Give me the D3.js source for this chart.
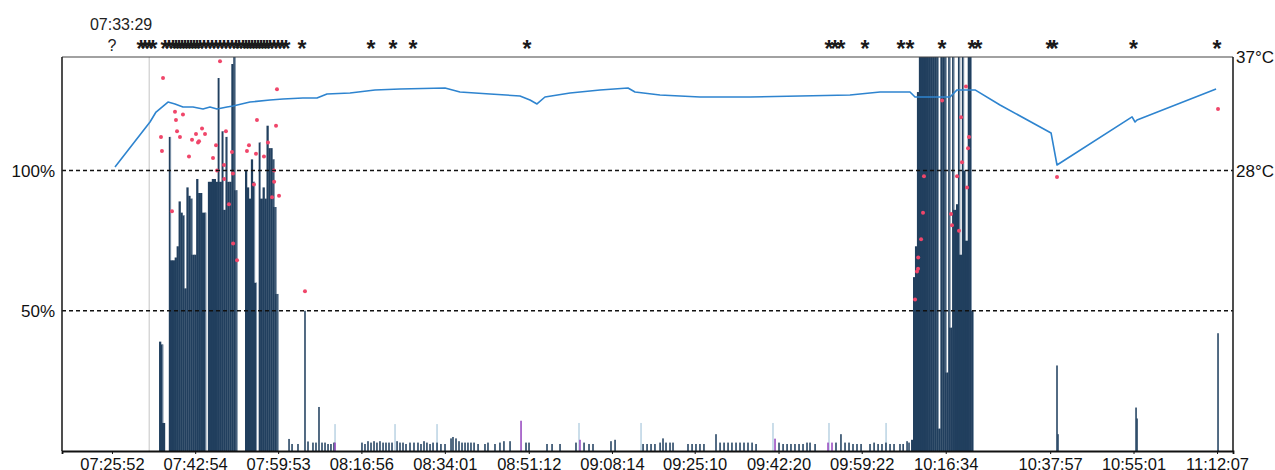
<!DOCTYPE html>
<html>
<head>
<meta charset="utf-8">
<script src="https://cdn.jsdelivr.net/npm/d3@7"></script>
<style>
  body { margin: 0; background: #fff; }
  svg { display: block; font-family: "Liberation Sans", Arial, sans-serif; }
</style>
</head>
<body>
<svg id="chart" width="1275" height="470"></svg>
<script>
// ---- data -------------------------------------------------------------
const timeTicks = ["07:25:52", "07:42:54", "07:59:53", "08:16:56", "08:34:01", "08:51:12",
  "09:08:14", "09:25:10", "09:42:20", "09:59:22", "10:16:34", "10:37:57", "10:55:01", "11:12:07"];
const pctTicks = [50, 100];
const tempTicks = [28, 37];
const firstReading = "07:25:52";
const markTime = "07:33:29";

// activity bursts sampled every 24 s
const sampleStepSec = 24;
const burst1Start = "07:35:42";
const burst1Values = [39, 38, 10, 0, 0, 112, 68, 68, 69, 73, 89, 85, 84, 58, 94, 91, 90, 70, 70, 97,
  92, 92, 85, 85, 0, 96, 96, 97, 97, 96, 133, 96, 114, 86, 112, 96, 96, 138, 145, 93,
  0, 0, 0, 0, 100, 94, 90, 104, 96, 60, 0, 110, 90, 94, 90, 116, 108, 108, 104, 87, 56];
const burst2Start = "10:09:40";
const burst2Values = [4, 62, 73, 128, 145, 145, 145, 145, 145, 145, 145, 145, 145, 145, 8, 145,
  145, 145, 28, 145, 44, 145, 86, 88, 145, 70, 145, 100, 75, 145, 145, 50];

// isolated activity readings (time, %)
const activity = [
  ["08:02:07", 4.3], ["08:02:44", 2.5], ["08:03:57", 2.5], ["08:05:23", 50], ["08:06:00", 3.4],
  ["08:07:01", 3], ["08:07:38", 3], ["08:08:15", 15.7], ["08:08:52", 3], ["08:09:29", 3],
  ["08:10:06", 2.5], ["08:10:42", 2.5], ["08:11:19", 3],
  ["08:17:03", 3], ["08:17:40", 2.5], ["08:18:17", 3.5], ["08:18:54", 3], ["08:19:31", 3.5],
  ["08:20:07", 3], ["08:20:44", 3.5], ["08:21:22", 3], ["08:21:58", 3], ["08:22:35", 3],
  ["08:23:12", 3], ["08:24:14", 3.5], ["08:24:50", 3], ["08:25:27", 3], ["08:26:04", 2.5],
  ["08:26:53", 3], ["08:27:42", 3], ["08:28:31", 3], ["08:29:08", 2.5], ["08:29:45", 3.5],
  ["08:30:21", 3], ["08:30:59", 2.5], ["08:31:36", 3], ["08:32:25", 3], ["08:33:13", 2.5],
  ["08:34:03", 2.5], ["08:35:17", 4.5], ["08:35:41", 5], ["08:36:18", 4.5], ["08:36:55", 3.5],
  ["08:37:32", 3], ["08:38:09", 3], ["08:38:45", 3], ["08:39:22", 3], ["08:40:00", 3],
  ["08:40:49", 2.5], ["08:42:14", 2.5], ["08:42:51", 3], ["08:44:17", 2.5], ["08:45:18", 3],
  ["08:46:07", 3.5], ["08:47:22", 3.5], ["08:50:38", 3], ["08:51:15", 3], ["08:54:56", 2.5],
  ["08:55:58", 2.5], ["08:57:36", 2.5], ["09:00:52", 3], ["09:02:31", 3], ["09:03:32", 2.5],
  ["09:04:21", 2.5], ["09:08:02", 3.5], ["09:08:52", 4], ["09:14:36", 2.5], ["09:15:25", 2.5],
  ["09:16:14", 2.5], ["09:17:02", 2.5], ["09:18:05", 3], ["09:18:41", 4.5], ["09:19:18", 3],
  ["09:20:07", 3], ["09:20:44", 3], ["09:23:48", 2.5], ["09:24:38", 2.5], ["09:25:26", 2.5],
  ["09:26:15", 2.5], ["09:27:04", 2.5], ["09:29:32", 6], ["09:30:22", 3], ["09:31:11", 3],
  ["09:32:00", 3], ["09:32:48", 3], ["09:33:38", 3], ["09:34:27", 3], ["09:35:16", 3],
  ["09:36:05", 3], ["09:36:55", 3], ["09:37:44", 2.5], ["09:42:26", 3], ["09:43:16", 2.5],
  ["09:44:05", 2.5], ["09:44:53", 2.5], ["09:45:42", 2.5], ["09:46:32", 2.5], ["09:47:21", 2.5],
  ["09:48:10", 3], ["09:48:47", 3], ["09:49:49", 2.5], ["09:54:06", 3], ["09:55:07", 6],
  ["09:55:57", 3], ["09:56:46", 3], ["09:57:35", 2.5], ["09:58:24", 2.5], ["09:59:14", 2.5],
  ["10:01:04", 2.5], ["10:01:54", 3], ["10:02:43", 2.5], ["10:03:31", 2.5], ["10:04:20", 3],
  ["10:05:10", 2.5], ["10:05:59", 2.5], ["10:07:12", 2.5], ["10:07:51", 2.5], ["10:08:39", 3.5],
  ["10:09:03", 3],
  ["10:39:21", 30.5], ["10:39:33", 6], ["10:55:32", 15.5], ["10:55:44", 11.6], ["11:12:19", 42]
];

// secondary channels (time, %)
const lightChannel = [
  ["08:11:32", 9.6], ["08:23:49", 9.6], ["08:32:25", 9.6], ["09:01:29", 10],
  ["09:14:11", 10], ["09:41:12", 10], ["09:52:40", 10], ["10:04:21", 10]
];
const purpleChannel = [
  ["08:11:32", 3], ["08:49:37", 10.8], ["09:01:41", 4], ["09:41:37", 4.4],
  ["09:52:28", 3], ["09:53:17", 3]
];

// point readings (time, %)
const points = [
  ["07:35:54", 112], ["07:36:06", 107], ["07:36:19", 133], ["07:38:09", 85.5], ["07:38:46", 121],
  ["07:38:58", 118], ["07:39:11", 114], ["07:39:47", 112], ["07:40:24", 120], ["07:41:38", 105],
  ["07:42:15", 111], ["07:43:04", 113], ["07:43:29", 110], ["07:43:41", 110.5], ["07:44:18", 115],
  ["07:44:55", 113], ["07:46:33", 104.5], ["07:47:10", 109], ["07:47:22", 100], ["07:47:59", 139],
  ["07:48:48", 102], ["07:48:50", 97], ["07:49:12", 114], ["07:49:49", 88], ["07:50:26", 106.6],
  ["07:50:38", 99], ["07:50:40", 74], ["07:51:28", 68], ["07:53:30", 107], ["07:53:55", 109],
  ["07:54:56", 95], ["07:55:21", 106], ["07:55:33", 118], ["07:56:59", 105], ["07:57:48", 110],
  ["07:58:38", 90.5], ["07:59:02", 100], ["07:59:04", 96], ["07:59:27", 116], ["07:59:39", 129],
  ["08:00:04", 91], ["08:05:23", 57],
  ["10:10:17", 54], ["10:10:41", 64], ["10:10:54", 65], ["10:10:56", 69], ["10:11:31", 75.5],
  ["10:11:55", 85], ["10:12:07", 98], ["10:15:49", 125], ["10:17:39", 84.5], ["10:17:51", 80.5],
  ["10:18:53", 98], ["10:19:17", 78.5], ["10:19:42", 119], ["10:19:54", 103], ["10:20:43", 130],
  ["10:20:56", 94], ["10:21:08", 108], ["10:21:20", 112],
  ["10:39:21", 97.7], ["11:12:19", 122]
];

// temperature (time, °C)
const temperature = [
  ["07:26:29", 28.29], ["07:33:39", 31.85], ["07:34:53", 32.64], ["07:37:20", 33.43],
  ["07:38:46", 33.28], ["07:40:24", 33.04], ["07:42:27", 33.04], ["07:44:30", 32.88],
  ["07:45:56", 33.04], ["07:47:22", 32.88], ["07:49:25", 33.04], ["07:50:38", 33.12],
  ["07:54:07", 33.43], ["07:58:13", 33.59], ["08:00:53", 33.67], ["08:04:58", 33.75],
  ["08:07:50", 33.75], ["08:09:53", 34.07], ["08:14:36", 34.15], ["08:19:43", 34.39],
  ["08:24:50", 34.46], ["08:34:03", 34.54], ["08:37:07", 34.23], ["08:43:16", 34.07],
  ["08:49:24", 33.91], ["08:51:27", 33.59], ["08:52:53", 33.28], ["08:54:31", 33.83],
  ["08:59:39", 34.15], ["09:05:47", 34.39], ["09:11:31", 34.54], ["09:12:57", 34.23],
  ["09:18:04", 33.99], ["09:26:16", 33.83], ["09:36:30", 33.83], ["09:46:44", 33.91],
  ["09:56:58", 33.99], ["10:03:07", 34.23], ["10:09:15", 34.23], ["10:10:17", 33.83],
  ["10:17:27", 33.83], ["10:18:53", 34.39], ["10:22:34", 34.39], ["10:27:41", 33.2],
  ["10:38:08", 30.98], ["10:39:21", 28.44], ["10:54:43", 32.25], ["10:55:20", 31.85],
  ["10:55:44", 32.01], ["11:11:55", 34.46]
];

// event markers along the top
const events = ["07:31:48", "07:32:37", "07:33:29", "07:34:16", "07:36:43", "07:37:32",
  "07:38:21", "07:38:58", "07:39:35", "07:40:12", "07:40:49", "07:41:26", "07:42:03",
  "07:42:39", "07:43:16", "07:43:53", "07:44:42", "07:45:31", "07:46:21", "07:47:10",
  "07:47:59", "07:48:48", "07:49:37", "07:50:26", "07:51:15", "07:51:52", "07:52:41",
  "07:53:18", "07:53:55", "07:54:32", "07:55:09", "07:55:46", "07:56:22", "07:56:59",
  "07:57:36", "07:58:13", "07:59:02", "07:59:51", "08:00:40", "08:01:30", "08:04:46",
  "08:18:54", "08:23:24", "08:27:30", "08:50:50", "09:52:40", "09:53:54", "09:55:08",
  "10:00:03", "10:07:25", "10:09:15", "10:15:49", "10:21:57", "10:23:11", "10:37:55",
  "10:38:44", "10:55:01", "11:12:07"];

// ---- layout -----------------------------------------------------------
const parse = d3.timeParse("%H:%M:%S");
const fmt = d3.timeFormat("%H:%M:%S");
const plot = { left: 62, right: 1233, top: 57, bottom: 451 };

const x = d3.scaleTime()
  .domain([parse("07:15:38"), parse("11:15:23")])
  .range([plot.left, plot.right]);
const y = d3.scaleLinear().domain([0, 140.5]).range([plot.bottom, plot.top]);
const yT = d3.scaleLinear().domain([28, 37]).range([y(100), plot.top]);

const svg = d3.select("#chart");

svg.append("clipPath").attr("id", "plot-clip")
  .append("rect")
  .attr("x", plot.left).attr("y", plot.top)
  .attr("width", plot.right - plot.left).attr("height", plot.bottom - plot.top);

const g = svg.append("g").attr("clip-path", "url(#plot-clip)");

// reference line at the marked time
g.append("line")
  .attr("x1", x(parse(markTime))).attr("x2", x(parse(markTime)))
  .attr("y1", plot.top).attr("y2", plot.bottom)
  .attr("stroke", "#c4c4c4").attr("stroke-width", 1);

// bursts
function burstRows(start, values) {
  const t0 = parse(start);
  return values.map((v, i) => [new Date(+t0 + i * sampleStepSec * 1000), v, values[i + 1] || 0]);
}
const burstRowsAll = burstRows(burst1Start, burst1Values).concat(burstRows(burst2Start, burst2Values));
const stepW = x(new Date(+parse(burst1Start) + sampleStepSec * 1000)) - x(parse(burst1Start));

g.append("g").selectAll("rect")
  .data(burstRowsAll.filter(d => d[1] > 0))
  .join("rect")
  .attr("x", d => x(d[0]) - stepW / 2)
  .attr("width", stepW + 0.3)
  .attr("y", d => y(d[1]))
  .attr("height", d => y(0) - y(d[1]))
  .attr("fill", "#213f5e");

// pale edge where a bar stands taller than the next one
g.append("g").selectAll("rect")
  .data(burstRowsAll.filter(d => d[1] > 0 && d[1] - d[2] > 12))
  .join("rect")
  .attr("x", d => x(d[0]) + stepW / 2 - 0.5)
  .attr("width", 0.8)
  .attr("y", d => y(d[1]))
  .attr("height", d => y(d[2]) - y(d[1]))
  .attr("fill", "#9aabbd");

// secondary channels
g.append("g").selectAll("rect")
  .data(lightChannel)
  .join("rect")
  .attr("x", d => x(parse(d[0])) - 0.6)
  .attr("width", 1.2)
  .attr("y", d => y(d[1]))
  .attr("height", d => y(0) - y(d[1]))
  .attr("fill", "#a9c8dc");

// isolated activity bars
g.append("g").selectAll("rect")
  .data(activity)
  .join("rect")
  .attr("x", d => x(parse(d[0])) - 0.8)
  .attr("width", 1.6)
  .attr("y", d => y(d[1]))
  .attr("height", d => y(0) - y(d[1]))
  .attr("fill", "#2a4866");

g.append("g").selectAll("rect")
  .data(purpleChannel)
  .join("rect")
  .attr("x", d => x(parse(d[0])) - 0.8)
  .attr("width", 1.6)
  .attr("y", d => y(d[1]))
  .attr("height", d => y(0) - y(d[1]))
  .attr("fill", "#9b4fc2");

// dashed reference levels
svg.append("g").selectAll("line")
  .data(pctTicks)
  .join("line")
  .attr("x1", plot.left).attr("x2", plot.right)
  .attr("y1", d => y(d)).attr("y2", d => y(d))
  .attr("stroke", "#111").attr("stroke-width", 1.6)
  .attr("stroke-dasharray", "4,3");

// temperature trace
g.append("path")
  .datum(temperature)
  .attr("fill", "none")
  .attr("stroke", "#2e84cf")
  .attr("stroke-width", 1.6)
  .attr("stroke-linejoin", "round")
  .attr("d", d3.line().x(d => x(parse(d[0]))).y(d => yT(d[1])));

// point readings
g.append("g").selectAll("circle")
  .data(points)
  .join("circle")
  .attr("cx", d => x(parse(d[0])))
  .attr("cy", d => y(d[1]))
  .attr("r", 2)
  .attr("fill", "#f0466a");

// frame
svg.append("line").attr("x1", plot.left).attr("x2", plot.right)
  .attr("y1", plot.top).attr("y2", plot.top).attr("stroke", "#444").attr("stroke-width", 1.2);
svg.append("line").attr("x1", plot.left).attr("x2", plot.left)
  .attr("y1", plot.top).attr("y2", plot.bottom).attr("stroke", "#222").attr("stroke-width", 1.6);
svg.append("line").attr("x1", plot.right).attr("x2", plot.right)
  .attr("y1", plot.top).attr("y2", plot.bottom).attr("stroke", "#222").attr("stroke-width", 1.6);

// bottom time axis
const xAxis = d3.axisBottom(x)
  .tickValues(timeTicks.map(parse))
  .tickFormat(fmt)
  .tickSize(3)
  .tickPadding(4);
const ax = svg.append("g").attr("transform", `translate(0,${plot.bottom})`).call(xAxis);
ax.select(".domain").attr("stroke", "#111").attr("stroke-width", 1.8);
ax.selectAll(".tick line").attr("stroke", "#111");
ax.selectAll(".tick text")
  .attr("font-family", "Liberation Sans, Arial, sans-serif")
  .attr("font-size", 16.5).attr("fill", "#111");

// percentage labels (left)
svg.append("g").selectAll("text")
  .data(pctTicks)
  .join("text")
  .attr("x", plot.left - 7)
  .attr("y", d => y(d) + 6)
  .attr("text-anchor", "end")
  .attr("font-size", 17).attr("fill", "#111")
  .text(d => d + "%");

// temperature labels (right)
svg.append("g").selectAll("text")
  .data(tempTicks)
  .join("text")
  .attr("x", plot.right + 3)
  .attr("y", d => yT(d) + 6)
  .attr("font-size", 17).attr("fill", "#111")
  .text(d => d + "°C");

// event markers
svg.append("g").selectAll("text")
  .data(events)
  .join("text")
  .attr("x", d => x(parse(d)))
  .attr("y", 57)
  .attr("text-anchor", "middle")
  .attr("font-size", 23).attr("font-weight", "bold").attr("fill", "#1a1a1a")
  .text("*");

svg.append("text")
  .attr("x", x(parse(firstReading)))
  .attr("y", 51)
  .attr("text-anchor", "middle")
  .attr("font-size", 16).attr("fill", "#222")
  .text("?");

svg.append("text")
  .attr("x", x(parse(markTime)) + 3)
  .attr("y", 30)
  .attr("text-anchor", "end")
  .attr("font-size", 16).attr("fill", "#222")
  .text(markTime);
</script>
</body>
</html>
